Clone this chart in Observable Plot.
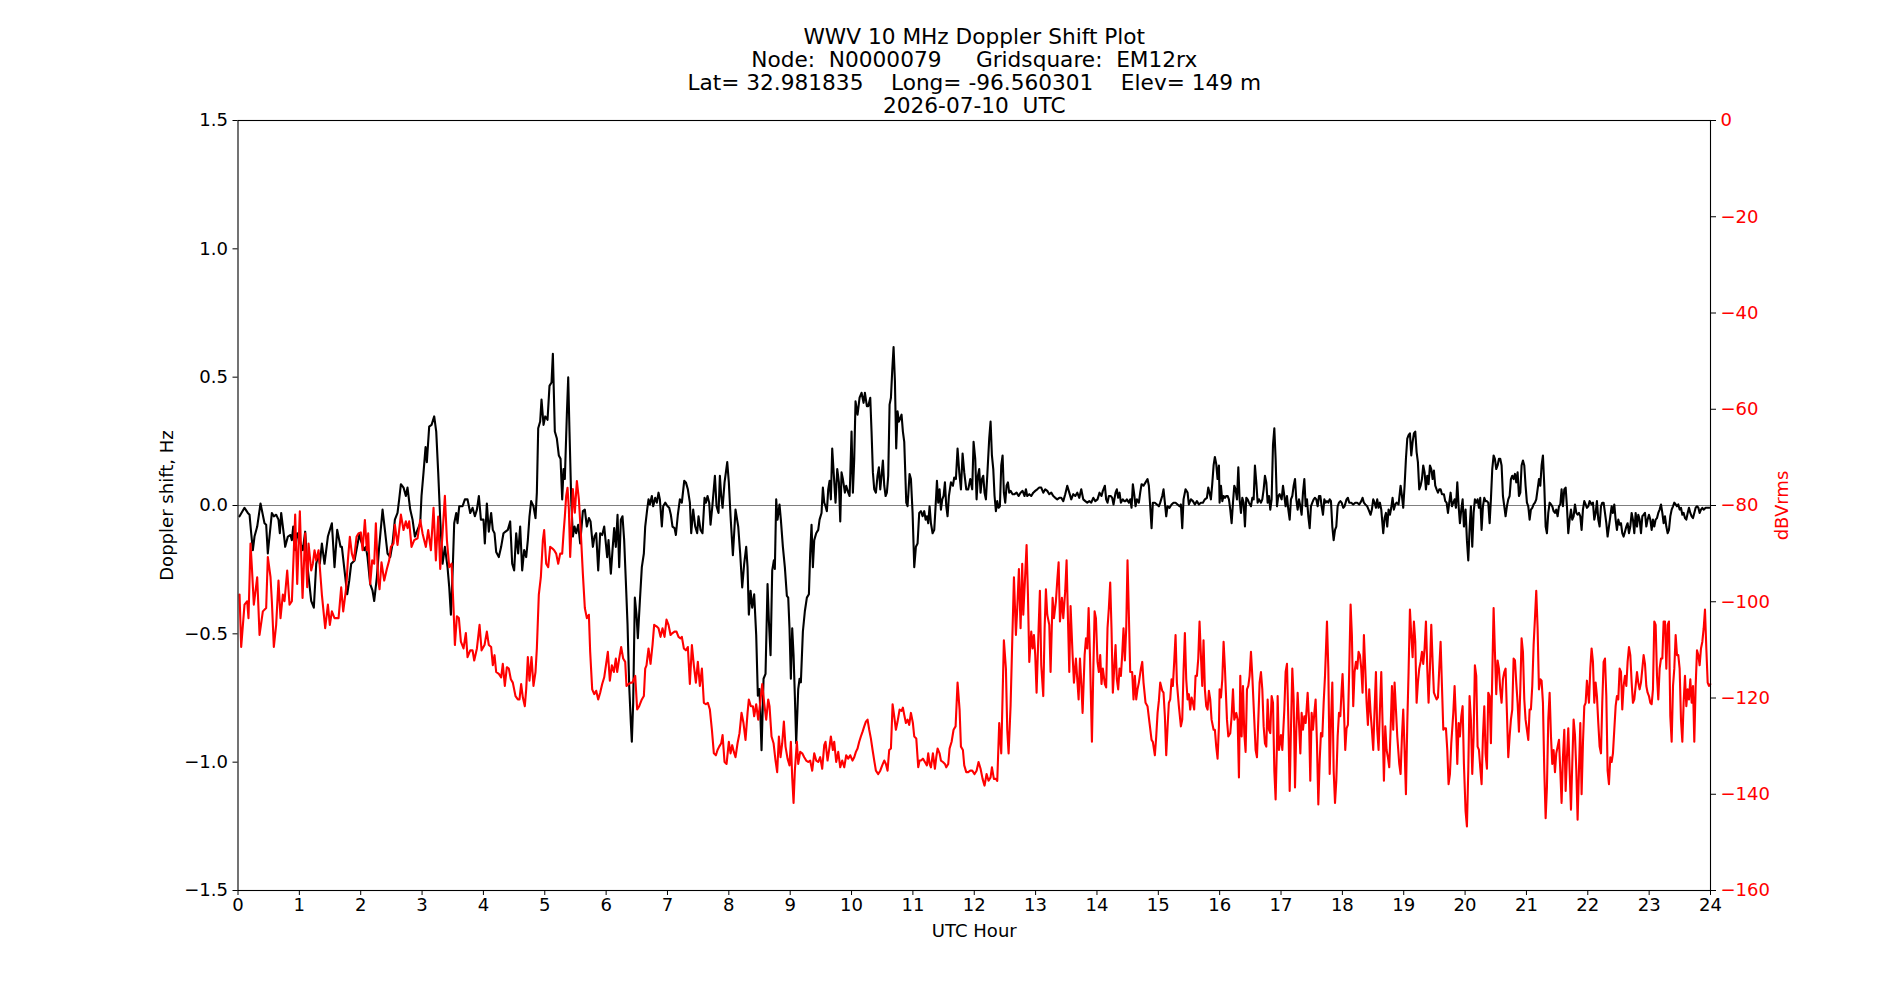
<!DOCTYPE html>
<html><head><meta charset="utf-8">
<script src="https://cdn.jsdelivr.net/npm/d3@7"></script>
<script src="https://cdn.jsdelivr.net/npm/@observablehq/plot@0.6"></script>
<style>
html,body{margin:0;padding:0;background:#fff;}
#chart svg text{white-space:pre;}
</style></head><body><div id="chart"></div>
<script>
const titleLines = [
  "WWV 10 MHz Doppler Shift Plot",
  "Node:  N0000079     Gridsquare:  EM12rx",
  "Lat= 32.981835    Long= -96.560301    Elev= 149 m",
  "2026-07-10  UTC"
];
const xLabel = "UTC Hour";
const yLabelLeft = "Doppler shift, Hz";
const yLabelRight = "dBVrms";
const hourTicks = [0,1,2,3,4,5,6,7,8,9,10,11,12,13,14,15,16,17,18,19,20,21,22,23,24];
const dopplerTicks = [-1.5,-1,-0.5,0,0.5,1,1.5];
const dbTicks = [0,-20,-40,-60,-80,-100,-120,-140,-160];

// [UTC hour, Doppler shift Hz]
const dopplerHz = [
[0.025,-0.042],[0.106,-0.009],[0.160,-0.029],[0.188,-0.036],[0.215,-0.108],[0.242,-0.174],[0.269,-0.121],[0.313,-0.082],[0.367,0.008],[0.432,-0.069],[0.459,-0.075],[0.486,-0.187],[0.552,-0.029],[0.584,-0.042],[0.622,-0.036],[0.660,-0.055],[0.682,-0.108],[0.704,-0.029],[0.758,-0.135],[0.769,-0.161],[0.813,-0.121],[0.856,-0.115],[0.878,-0.135],[0.900,-0.082],[0.932,-0.174],[0.965,-0.108],[1.057,-0.174],[1.095,-0.102],[1.128,-0.227],[1.193,-0.372],[1.236,-0.398],[1.275,-0.227],[1.313,-0.187],[1.334,-0.227],[1.367,-0.148],[1.410,-0.227],[1.465,-0.121],[1.530,-0.069],[1.573,-0.240],[1.617,-0.095],[1.671,-0.161],[1.693,-0.161],[1.736,-0.253],[1.780,-0.346],[1.813,-0.293],[1.845,-0.227],[1.900,-0.214],[1.981,-0.108],
[2.002,-0.135],[2.057,-0.174],[2.084,-0.161],[2.111,-0.201],[2.155,-0.306],[2.193,-0.332],[2.220,-0.372],[2.263,-0.280],[2.301,-0.161],[2.356,-0.016],[2.394,-0.095],[2.437,-0.187],[2.481,-0.201],[2.519,-0.148],[2.557,-0.055],[2.600,-0.029],[2.627,0.024],[2.655,0.083],[2.698,0.070],[2.736,0.037],[2.763,0.070],[2.807,-0.016],[2.845,-0.055],[2.883,-0.121],[2.926,-0.095],[2.970,-0.069],[2.991,0.037],[3.024,0.129],[3.057,0.228],[3.078,0.169],[3.116,0.307],[3.155,0.314],[3.198,0.347],[3.231,0.288],[3.263,0.129],[3.296,-0.055],[3.334,-0.227],[3.372,-0.161],[3.415,-0.240],[3.443,-0.319],[3.470,-0.425],[3.497,-0.266],[3.524,-0.069],[3.557,-0.029],[3.578,-0.069],[3.606,-0.003],[3.660,-0.003],[3.698,0.024],[3.741,0.024],[3.785,-0.029],[3.823,-0.009],[3.861,-0.042],[3.894,-0.016],[3.926,0.037],[3.959,-0.055],[3.986,-0.055],
[4.001,-0.055],[4.023,-0.148],[4.056,0.008],[4.088,-0.102],[4.126,-0.029],[4.153,-0.095],[4.181,-0.108],[4.208,-0.181],[4.251,-0.201],[4.289,-0.161],[4.327,-0.108],[4.360,-0.102],[4.398,-0.095],[4.436,-0.062],[4.469,-0.227],[4.501,-0.253],[4.534,-0.108],[4.566,-0.187],[4.599,-0.082],[4.632,-0.253],[4.664,-0.174],[4.697,-0.201],[4.724,-0.135],[4.751,-0.042],[4.778,0.017],[4.816,-0.003],[4.849,-0.049],[4.871,0.050],[4.893,0.301],[4.925,0.327],[4.947,0.413],[4.980,0.314],[5.007,0.347],[5.045,0.334],[5.077,0.466],[5.110,0.479],[5.132,0.591],[5.164,0.288],[5.197,0.261],[5.229,0.195],[5.257,0.182],[5.284,0.024],[5.306,0.142],[5.327,0.103],[5.360,0.354],[5.382,0.499],[5.403,0.288],[5.431,0.024],[5.458,-0.121],[5.485,-0.082],[5.512,-0.108],[5.545,-0.075],[5.577,-0.148],[5.621,-0.022],[5.653,-0.016],[5.686,-0.082],[5.719,-0.049],[5.746,-0.062],[5.784,-0.161],[5.811,-0.121],[5.838,-0.108],[5.871,-0.253],[5.903,-0.108],[5.936,-0.115],[5.969,-0.082],
[6.017,-0.201],[6.039,-0.135],[6.077,-0.266],[6.104,-0.174],[6.131,-0.088],[6.158,-0.161],[6.186,-0.036],[6.213,-0.240],[6.240,-0.055],[6.267,-0.042],[6.294,-0.135],[6.321,-0.293],[6.349,-0.464],[6.376,-0.702],[6.403,-0.847],[6.419,-0.920],[6.441,-0.768],[6.468,-0.359],[6.495,-0.425],[6.517,-0.517],[6.550,-0.372],[6.582,-0.240],[6.615,-0.187],[6.637,-0.082],[6.669,-0.016],[6.691,0.024],[6.713,0.004],[6.745,0.037],[6.767,-0.003],[6.800,0.030],[6.827,0.011],[6.854,0.050],[6.876,0.024],[6.908,-0.082],[6.930,-0.003],[6.963,0.011],[7.001,-0.003],[7.028,-0.009],[7.055,-0.036],[7.082,-0.082],[7.115,-0.088],[7.137,-0.115],[7.169,-0.036],[7.202,0.024],[7.234,0.011],[7.273,0.096],[7.300,0.090],[7.332,0.063],[7.365,0.011],[7.387,-0.108],[7.419,-0.016],[7.452,-0.082],[7.484,-0.108],[7.506,-0.042],[7.539,-0.095],[7.571,-0.108],[7.604,0.030],[7.626,0.011],[7.653,0.037],[7.680,0.011],[7.702,-0.075],[7.734,0.004],[7.773,0.116],[7.800,-0.003],[7.832,-0.029],[7.854,0.116],[7.876,0.037],[7.898,-0.009],[7.930,0.090],[7.952,0.129],[7.974,0.169],
[8.000,0.090],[8.028,-0.042],[8.066,-0.194],[8.109,-0.016],[8.153,-0.082],[8.185,-0.187],[8.218,-0.319],[8.250,-0.227],[8.283,-0.161],[8.305,-0.240],[8.326,-0.425],[8.354,-0.332],[8.381,-0.398],[8.413,-0.346],[8.446,-0.504],[8.473,-0.741],[8.500,-0.715],[8.533,-0.953],[8.566,-0.675],[8.598,-0.656],[8.631,-0.306],[8.653,-0.451],[8.680,-0.583],[8.707,-0.253],[8.734,-0.214],[8.750,-0.247],[8.772,0.024],[8.794,-0.055],[8.826,0.004],[8.848,-0.055],[8.881,-0.161],[8.913,-0.240],[8.946,-0.352],[8.968,-0.359],[8.989,-0.478],[9.011,-0.675],[9.033,-0.478],[9.055,-0.583],[9.076,-0.741],[9.098,-0.926],[9.131,-0.715],[9.153,-0.675],[9.174,-0.689],[9.207,-0.491],[9.239,-0.412],[9.272,-0.359],[9.305,-0.346],[9.326,-0.187],[9.348,-0.075],[9.370,-0.240],[9.392,-0.135],[9.424,-0.108],[9.457,-0.095],[9.479,-0.055],[9.511,-0.029],[9.533,0.070],[9.555,0.011],[9.576,-0.003],[9.598,-0.022],[9.620,0.063],[9.642,0.096],[9.663,0.024],[9.685,0.222],[9.712,0.116],[9.739,0.011],[9.767,0.142],[9.794,0.090],[9.816,-0.062],[9.837,0.129],[9.859,0.103],[9.892,0.050],[9.913,0.077],[9.946,0.050],[9.968,0.037],
[9.978,0.103],[10.000,0.288],[10.022,0.050],[10.044,0.182],[10.065,0.406],[10.098,0.354],[10.131,0.420],[10.163,0.439],[10.196,0.400],[10.218,0.439],[10.250,0.387],[10.272,0.387],[10.305,0.420],[10.326,0.288],[10.348,0.129],[10.370,0.063],[10.397,0.050],[10.424,0.116],[10.446,0.149],[10.468,0.063],[10.489,0.116],[10.511,0.175],[10.533,0.077],[10.555,0.037],[10.576,0.050],[10.598,0.116],[10.620,0.393],[10.642,0.420],[10.663,0.525],[10.685,0.617],[10.707,0.485],[10.728,0.222],[10.750,0.367],[10.772,0.327],[10.794,0.340],[10.815,0.354],[10.837,0.288],[10.859,0.248],[10.892,0.011],[10.913,-0.003],[10.946,0.123],[10.968,0.103],[10.995,-0.029],[11.022,-0.240],[11.049,-0.161],[11.076,-0.148],[11.103,-0.029],[11.131,-0.022],[11.158,-0.042],[11.185,-0.022],[11.207,-0.055],[11.228,-0.042],[11.250,-0.069],[11.272,-0.003],[11.294,-0.069],[11.321,-0.108],[11.348,-0.095],[11.370,-0.003],[11.392,0.096],[11.413,0.011],[11.435,0.063],[11.457,-0.016],[11.479,0.024],[11.500,0.037],[11.522,0.090],[11.544,-0.003],[11.565,-0.042],[11.587,0.037],[11.620,0.090],[11.652,0.077],[11.674,0.109],[11.701,0.103],[11.728,0.222],[11.756,0.129],[11.783,0.063],[11.810,0.202],[11.837,0.129],[11.870,0.063],[11.902,0.063],[11.935,0.103],[11.967,0.063],[11.989,0.248],
[12.016,0.182],[12.038,0.024],[12.060,0.116],[12.081,0.142],[12.103,0.050],[12.125,0.103],[12.147,0.116],[12.168,0.050],[12.190,0.024],[12.212,0.116],[12.244,0.261],[12.266,0.327],[12.288,0.195],[12.310,0.142],[12.331,0.037],[12.353,-0.022],[12.375,0.017],[12.397,-0.009],[12.418,-0.003],[12.440,0.156],[12.462,0.195],[12.483,0.050],[12.505,0.011],[12.527,0.077],[12.549,0.090],[12.570,0.050],[12.592,0.057],[12.625,0.044],[12.657,0.044],[12.690,0.050],[12.723,0.037],[12.755,0.050],[12.788,0.057],[12.820,0.037],[12.842,0.063],[12.864,0.037],[12.897,0.044],[12.929,0.037],[12.962,0.050],[12.994,0.057],[13.027,0.063],[13.060,0.070],[13.092,0.070],[13.125,0.050],[13.157,0.063],[13.190,0.057],[13.223,0.044],[13.255,0.050],[13.288,0.037],[13.320,0.030],[13.353,0.024],[13.386,0.030],[13.418,0.030],[13.451,0.017],[13.483,0.044],[13.516,0.077],[13.549,0.050],[13.581,0.024],[13.614,0.044],[13.647,0.037],[13.679,0.050],[13.712,0.030],[13.744,0.063],[13.777,0.024],[13.810,0.017],[13.842,0.011],[13.875,0.017],[13.907,0.011],[13.940,0.030],[13.973,0.017],
[14.009,0.024],[14.042,0.050],[14.074,0.037],[14.096,0.057],[14.129,0.077],[14.150,0.024],[14.172,0.011],[14.194,0.037],[14.227,0.037],[14.248,0.030],[14.270,0.004],[14.303,0.050],[14.324,0.063],[14.346,0.030],[14.368,0.050],[14.390,0.011],[14.422,0.024],[14.444,0.017],[14.466,0.017],[14.487,0.024],[14.520,0.011],[14.542,0.024],[14.564,-0.009],[14.585,0.083],[14.607,0.044],[14.629,-0.003],[14.651,0.024],[14.683,0.011],[14.705,0.050],[14.727,0.083],[14.759,0.077],[14.792,0.090],[14.824,0.103],[14.846,0.077],[14.868,-0.003],[14.890,-0.088],[14.911,0.011],[14.944,0.011],[14.977,0.004],[15.009,-0.003],[15.031,0.011],[15.064,0.037],[15.085,0.063],[15.107,0.011],[15.129,-0.042],[15.150,-0.003],[15.183,-0.009],[15.216,0.004],[15.248,0.011],[15.281,0.011],[15.314,0.004],[15.346,-0.003],[15.368,0.004],[15.390,-0.088],[15.411,0.024],[15.444,0.063],[15.477,0.050],[15.498,0.004],[15.531,0.024],[15.564,0.017],[15.596,0.004],[15.629,0.017],[15.661,0.004],[15.694,0.011],[15.727,0.011],[15.759,0.024],[15.792,0.030],[15.814,0.070],[15.835,0.050],[15.857,0.024],[15.879,0.083],[15.901,0.156],[15.922,0.189],[15.944,0.162],[15.966,0.103],[15.988,0.156],
[15.999,0.011],[16.021,0.077],[16.043,0.017],[16.064,0.037],[16.086,0.030],[16.108,0.037],[16.130,0.037],[16.151,0.024],[16.173,-0.016],[16.195,-0.069],[16.217,0.011],[16.238,0.077],[16.260,0.063],[16.282,0.024],[16.304,0.149],[16.325,0.024],[16.347,-0.029],[16.369,0.030],[16.391,0.011],[16.412,-0.082],[16.434,0.030],[16.456,0.024],[16.477,0.011],[16.510,-0.003],[16.532,0.030],[16.554,0.024],[16.575,0.156],[16.597,0.090],[16.619,0.011],[16.641,0.024],[16.673,0.011],[16.695,0.024],[16.717,0.063],[16.738,0.116],[16.760,0.090],[16.782,0.011],[16.804,0.037],[16.825,-0.016],[16.847,0.024],[16.869,0.235],[16.891,0.301],[16.912,0.182],[16.934,-0.003],[16.956,0.037],[16.977,0.044],[17.010,0.024],[17.032,0.077],[17.054,0.037],[17.075,-0.003],[17.097,0.037],[17.119,-0.016],[17.141,-0.055],[17.162,0.024],[17.184,0.037],[17.206,0.077],[17.228,0.103],[17.249,0.024],[17.271,-0.016],[17.293,0.024],[17.315,-0.003],[17.336,-0.036],[17.358,0.050],[17.380,0.103],[17.402,-0.003],[17.423,0.024],[17.445,-0.042],[17.467,-0.088],[17.488,-0.003],[17.510,0.011],[17.532,0.024],[17.554,0.030],[17.575,0.024],[17.597,-0.003],[17.619,0.037],[17.641,0.037],[17.662,-0.003],[17.684,-0.036],[17.706,0.024],[17.728,0.011],[17.749,0.017],[17.771,0.011],[17.793,0.024],[17.814,0.017],[17.836,-0.082],[17.858,-0.135],[17.880,-0.095],[17.901,-0.082],[17.923,-0.003],[17.945,0.011],[17.967,0.017],[17.988,0.011],
[18.014,-0.009],[18.036,-0.003],[18.068,0.024],[18.090,0.030],[18.112,0.011],[18.145,0.011],[18.177,0.004],[18.210,0.011],[18.242,0.011],[18.275,0.004],[18.308,0.017],[18.329,0.030],[18.351,0.011],[18.373,0.004],[18.405,-0.003],[18.427,-0.016],[18.460,-0.036],[18.481,-0.016],[18.503,0.024],[18.525,0.011],[18.547,-0.009],[18.568,0.024],[18.590,-0.009],[18.612,0.011],[18.634,-0.016],[18.666,-0.108],[18.688,-0.049],[18.710,-0.029],[18.731,-0.082],[18.753,-0.016],[18.775,-0.036],[18.797,-0.009],[18.818,0.030],[18.840,-0.016],[18.862,0.004],[18.884,0.011],[18.916,0.004],[18.949,0.077],[18.971,0.037],[18.992,-0.009],[19.014,0.077],[19.036,0.182],[19.058,0.261],[19.079,0.274],[19.101,0.281],[19.123,0.195],[19.145,0.248],[19.166,0.281],[19.188,0.288],[19.210,0.208],[19.231,0.169],[19.253,0.063],[19.275,0.077],[19.297,0.103],[19.318,0.156],[19.340,0.129],[19.362,0.063],[19.384,0.116],[19.405,0.083],[19.427,0.156],[19.449,0.142],[19.471,0.103],[19.492,0.136],[19.514,0.077],[19.536,0.063],[19.558,0.050],[19.579,0.063],[19.601,0.063],[19.623,0.044],[19.655,0.044],[19.677,0.017],[19.699,0.011],[19.721,-0.029],[19.742,0.011],[19.764,0.050],[19.786,-0.003],[19.808,0.011],[19.829,0.024],[19.851,-0.009],[19.873,0.090],[19.895,-0.003],[19.916,-0.069],[19.938,-0.016],[19.960,0.024],[19.981,-0.082],
[20.008,-0.016],[20.030,-0.135],[20.052,-0.214],[20.073,-0.095],[20.095,-0.003],[20.117,-0.161],[20.139,-0.029],[20.160,0.024],[20.182,0.011],[20.204,0.024],[20.226,-0.009],[20.247,0.030],[20.269,-0.095],[20.291,-0.003],[20.313,0.030],[20.334,0.017],[20.356,0.017],[20.378,0.011],[20.400,-0.069],[20.421,0.024],[20.443,0.142],[20.465,0.195],[20.486,0.182],[20.508,0.142],[20.530,0.156],[20.552,0.182],[20.573,0.182],[20.595,0.156],[20.617,0.037],[20.639,-0.003],[20.660,-0.042],[20.682,-0.003],[20.704,0.024],[20.726,0.037],[20.747,0.103],[20.769,0.116],[20.791,0.103],[20.813,0.123],[20.834,0.090],[20.856,0.129],[20.878,0.037],[20.900,0.050],[20.921,0.156],[20.943,0.175],[20.965,0.156],[20.986,0.077],[21.008,0.011],[21.030,-0.003],[21.052,-0.055],[21.073,-0.016],[21.095,-0.009],[21.117,0.004],[21.139,0.011],[21.160,0.024],[21.182,0.063],[21.204,0.103],[21.226,0.077],[21.247,0.156],[21.269,0.195],[21.291,0.077],[21.313,-0.082],[21.334,-0.108],[21.356,-0.029],[21.378,0.011],[21.400,0.004],[21.421,-0.003],[21.443,-0.022],[21.465,-0.029],[21.486,-0.016],[21.508,-0.042],[21.530,-0.003],[21.552,0.004],[21.573,0.063],[21.595,-0.003],[21.617,0.063],[21.639,0.070],[21.660,-0.003],[21.682,-0.108],[21.704,-0.055],[21.726,-0.016],[21.747,-0.055],[21.769,-0.042],[21.791,0.004],[21.813,-0.029],[21.834,-0.036],[21.856,-0.029],[21.878,-0.042],[21.899,-0.095],[21.921,-0.016],[21.943,0.017],[21.965,0.004],[21.986,-0.009],
[22.008,-0.003],[22.030,0.017],[22.062,0.004],[22.084,0.011],[22.106,-0.055],[22.128,-0.029],[22.149,0.017],[22.171,-0.055],[22.193,-0.082],[22.215,-0.003],[22.236,0.011],[22.258,0.011],[22.280,-0.029],[22.302,-0.069],[22.323,-0.121],[22.345,-0.082],[22.367,-0.042],[22.389,-0.003],[22.410,-0.029],[22.432,0.004],[22.454,-0.055],[22.475,-0.095],[22.497,-0.055],[22.519,-0.075],[22.541,-0.069],[22.562,-0.108],[22.584,-0.121],[22.606,-0.102],[22.628,-0.082],[22.649,-0.069],[22.671,-0.108],[22.693,-0.082],[22.715,-0.029],[22.736,-0.055],[22.758,-0.108],[22.780,-0.029],[22.802,-0.082],[22.823,-0.036],[22.845,-0.055],[22.867,-0.108],[22.889,-0.042],[22.910,-0.036],[22.932,-0.029],[22.954,-0.082],[22.975,-0.055],[22.997,-0.036],[23.019,-0.055],[23.041,-0.095],[23.062,-0.055],[23.084,-0.082],[23.106,-0.055],[23.128,-0.049],[23.149,-0.029],[23.171,-0.016],[23.193,0.004],[23.215,-0.029],[23.236,-0.069],[23.258,-0.042],[23.280,-0.082],[23.302,-0.108],[23.323,-0.095],[23.345,-0.042],[23.367,-0.016],[23.389,-0.003],[23.410,0.011],[23.432,0.004],[23.454,-0.003],[23.475,0.004],[23.497,-0.016],[23.519,-0.009],[23.541,-0.036],[23.562,-0.029],[23.584,-0.049],[23.606,-0.055],[23.628,-0.029],[23.649,-0.009],[23.671,-0.029],[23.693,-0.042],[23.715,-0.049],[23.736,-0.029],[23.758,-0.009],[23.780,-0.003],[23.802,-0.009],[23.823,-0.029],[23.845,-0.016],[23.867,-0.009],[23.889,-0.016],[23.921,-0.009],[23.954,-0.009],[23.986,-0.009]
];

// [UTC hour, signal level dBVrms]
const signalDb = [
[0.025,-98.5],[0.052,-109.4],[0.106,-100.6],[0.150,-99.9],[0.171,-103.4],[0.204,-87.9],[0.226,-92.8],[0.258,-100.6],[0.313,-94.9],[0.351,-106.9],[0.405,-102.0],[0.459,-101.3],[0.486,-90.7],[0.530,-94.9],[0.552,-99.9],[0.584,-109.4],[0.622,-104.8],[0.660,-95.6],[0.693,-103.4],[0.731,-98.5],[0.758,-99.9],[0.802,-93.5],[0.840,-100.6],[0.878,-99.9],[0.932,-81.9],[0.965,-96.3],[1.008,-81.2],[1.052,-99.2],[1.095,-85.8],[1.128,-97.0],[1.150,-87.9],[1.193,-93.5],[1.220,-92.1],[1.247,-89.3],[1.275,-91.4],[1.313,-89.3],[1.367,-98.5],[1.421,-105.5],[1.465,-100.6],[1.497,-104.8],[1.530,-102.0],[1.573,-103.4],[1.639,-103.4],[1.682,-97.0],[1.715,-102.0],[1.764,-97.0],[1.791,-91.4],[1.823,-86.5],[1.856,-90.0],[1.889,-91.4],[1.932,-86.5],[1.965,-85.8],
[2.002,-85.6],[2.030,-89.3],[2.068,-83.0],[2.100,-89.3],[2.122,-85.8],[2.155,-96.3],[2.187,-91.4],[2.220,-92.1],[2.247,-83.7],[2.285,-95.6],[2.307,-97.4],[2.339,-91.8],[2.383,-95.6],[2.426,-93.2],[2.464,-91.4],[2.491,-88.6],[2.535,-87.9],[2.557,-84.0],[2.600,-88.2],[2.655,-81.9],[2.698,-85.1],[2.736,-83.3],[2.763,-84.7],[2.790,-83.3],[2.828,-88.6],[2.872,-87.2],[2.926,-86.8],[2.970,-83.0],[3.008,-85.8],[3.062,-88.6],[3.100,-85.1],[3.144,-89.3],[3.187,-80.5],[3.225,-91.4],[3.263,-82.3],[3.296,-93.2],[3.334,-85.8],[3.372,-78.0],[3.405,-87.2],[3.443,-92.8],[3.481,-92.1],[3.513,-101.3],[3.535,-109.0],[3.568,-103.0],[3.600,-103.4],[3.633,-108.3],[3.676,-109.7],[3.714,-106.5],[3.741,-111.5],[3.785,-110.1],[3.823,-110.1],[3.850,-112.2],[3.894,-109.7],[3.937,-104.8],[3.970,-110.1],
[4.018,-109.0],[4.056,-106.2],[4.088,-109.0],[4.126,-109.4],[4.153,-113.2],[4.181,-111.1],[4.208,-114.6],[4.251,-115.0],[4.289,-115.7],[4.316,-112.9],[4.349,-117.5],[4.382,-113.6],[4.414,-113.9],[4.447,-116.1],[4.479,-116.8],[4.523,-119.6],[4.561,-120.3],[4.588,-120.3],[4.615,-117.1],[4.643,-119.9],[4.675,-121.7],[4.697,-118.2],[4.724,-111.5],[4.751,-116.4],[4.784,-111.5],[4.816,-117.5],[4.849,-114.6],[4.871,-109.7],[4.903,-98.5],[4.936,-94.9],[4.969,-87.2],[4.990,-85.1],[5.023,-92.1],[5.056,-92.8],[5.088,-88.6],[5.121,-88.9],[5.153,-89.3],[5.186,-90.0],[5.219,-92.1],[5.251,-90.0],[5.284,-90.0],[5.306,-85.8],[5.327,-82.3],[5.349,-78.0],[5.371,-76.3],[5.393,-80.8],[5.414,-90.7],[5.436,-84.4],[5.458,-76.6],[5.490,-81.5],[5.523,-74.9],[5.556,-78.7],[5.588,-85.8],[5.621,-94.2],[5.653,-101.3],[5.686,-103.4],[5.719,-102.7],[5.740,-110.4],[5.773,-118.2],[5.806,-119.2],[5.838,-118.5],[5.871,-120.3],[5.903,-118.9],[5.936,-117.1],[5.969,-115.7],
[6.028,-110.4],[6.061,-116.4],[6.093,-113.2],[6.126,-114.6],[6.158,-111.8],[6.180,-114.6],[6.213,-111.8],[6.245,-109.4],[6.278,-111.8],[6.311,-112.5],[6.332,-117.5],[6.365,-117.1],[6.403,-116.8],[6.430,-116.8],[6.474,-115.4],[6.506,-122.4],[6.539,-121.7],[6.582,-120.3],[6.615,-119.6],[6.637,-113.9],[6.658,-113.2],[6.691,-109.7],[6.724,-112.9],[6.756,-109.0],[6.783,-104.8],[6.821,-105.1],[6.854,-105.5],[6.887,-107.3],[6.919,-105.5],[6.952,-107.3],[6.984,-103.7],[7.017,-104.8],[7.050,-106.9],[7.082,-106.5],[7.115,-106.2],[7.147,-106.2],[7.180,-107.3],[7.213,-107.6],[7.234,-107.3],[7.267,-109.7],[7.300,-110.1],[7.332,-109.4],[7.365,-117.1],[7.398,-109.0],[7.430,-113.2],[7.463,-116.8],[7.495,-112.5],[7.528,-117.5],[7.561,-113.9],[7.593,-121.0],[7.626,-121.3],[7.658,-121.0],[7.691,-122.4],[7.724,-126.6],[7.756,-131.5],[7.789,-131.9],[7.816,-130.8],[7.843,-130.1],[7.876,-129.4],[7.898,-127.7],[7.930,-133.3],[7.963,-133.7],
[8.000,-129.1],[8.028,-131.5],[8.055,-129.8],[8.082,-131.2],[8.109,-132.3],[8.142,-129.4],[8.174,-127.3],[8.207,-123.1],[8.239,-125.2],[8.272,-128.7],[8.305,-123.1],[8.326,-120.3],[8.359,-121.7],[8.392,-121.7],[8.413,-123.8],[8.446,-121.3],[8.479,-124.5],[8.511,-121.0],[8.544,-117.1],[8.576,-121.0],[8.609,-124.5],[8.642,-120.3],[8.663,-121.7],[8.696,-128.0],[8.729,-129.4],[8.761,-133.0],[8.788,-135.4],[8.816,-128.0],[8.843,-132.3],[8.870,-129.4],[8.897,-124.9],[8.924,-130.1],[8.957,-132.6],[8.989,-134.0],[9.011,-129.1],[9.033,-136.5],[9.055,-141.8],[9.076,-135.1],[9.109,-129.1],[9.131,-133.7],[9.163,-131.2],[9.196,-131.5],[9.229,-132.3],[9.261,-133.0],[9.294,-133.3],[9.326,-133.0],[9.359,-135.1],[9.392,-131.5],[9.424,-133.0],[9.457,-133.3],[9.489,-132.3],[9.522,-134.7],[9.555,-129.8],[9.576,-129.1],[9.609,-133.0],[9.642,-130.1],[9.663,-128.0],[9.696,-130.8],[9.718,-129.1],[9.750,-133.3],[9.783,-131.2],[9.816,-134.4],[9.848,-133.0],[9.881,-134.4],[9.913,-131.9],[9.946,-132.6],[9.978,-131.9],
[10.016,-133.0],[10.044,-132.3],[10.071,-131.2],[10.098,-130.5],[10.125,-129.1],[10.152,-128.0],[10.180,-127.0],[10.207,-125.9],[10.234,-124.9],[10.261,-124.5],[10.288,-126.6],[10.315,-128.4],[10.343,-130.8],[10.370,-133.0],[10.397,-135.1],[10.435,-135.8],[10.468,-135.1],[10.500,-134.0],[10.533,-133.0],[10.560,-133.7],[10.587,-135.1],[10.614,-130.8],[10.642,-130.5],[10.669,-121.3],[10.696,-123.8],[10.723,-126.6],[10.750,-124.9],[10.783,-122.4],[10.815,-122.7],[10.837,-122.0],[10.859,-123.5],[10.886,-125.2],[10.913,-124.5],[10.940,-125.6],[10.968,-123.1],[11.000,-125.2],[11.022,-128.0],[11.055,-128.4],[11.087,-134.4],[11.109,-133.0],[11.131,-133.0],[11.163,-132.6],[11.196,-133.3],[11.228,-134.0],[11.250,-131.5],[11.272,-133.7],[11.294,-134.4],[11.326,-131.5],[11.359,-134.7],[11.381,-132.3],[11.402,-130.5],[11.435,-131.5],[11.457,-133.0],[11.489,-133.3],[11.522,-133.7],[11.544,-134.4],[11.576,-133.7],[11.598,-130.5],[11.631,-129.1],[11.663,-126.6],[11.696,-125.9],[11.728,-116.8],[11.761,-122.4],[11.783,-130.1],[11.815,-130.8],[11.837,-134.0],[11.870,-135.4],[11.902,-135.4],[11.935,-135.1],[11.967,-135.1],
[12.005,-135.8],[12.038,-135.1],[12.070,-133.3],[12.103,-134.7],[12.136,-136.8],[12.168,-138.2],[12.201,-135.8],[12.233,-137.2],[12.266,-136.5],[12.288,-134.4],[12.320,-136.8],[12.353,-136.8],[12.375,-137.2],[12.407,-125.2],[12.440,-131.5],[12.462,-119.6],[12.483,-108.0],[12.516,-113.9],[12.538,-126.6],[12.560,-131.5],[12.592,-121.7],[12.619,-108.3],[12.647,-94.9],[12.679,-106.9],[12.701,-101.3],[12.728,-93.2],[12.755,-105.5],[12.782,-92.1],[12.799,-102.7],[12.831,-94.2],[12.853,-88.2],[12.875,-98.5],[12.897,-112.5],[12.929,-106.2],[12.951,-109.7],[12.973,-106.9],[12.994,-111.1],[13.016,-118.9],[13.049,-105.5],[13.070,-97.7],[13.092,-113.2],[13.125,-119.6],[13.147,-105.5],[13.168,-97.4],[13.190,-102.7],[13.223,-104.8],[13.244,-114.6],[13.277,-99.2],[13.299,-103.4],[13.331,-99.9],[13.353,-95.6],[13.375,-91.8],[13.397,-104.1],[13.429,-99.2],[13.451,-103.4],[13.483,-97.7],[13.505,-91.4],[13.527,-103.4],[13.549,-114.6],[13.570,-100.9],[13.603,-111.1],[13.625,-116.8],[13.657,-111.8],[13.679,-116.1],[13.701,-120.3],[13.723,-111.8],[13.744,-116.8],[13.766,-123.1],[13.799,-111.1],[13.821,-107.6],[13.842,-109.7],[13.864,-101.3],[13.886,-111.1],[13.918,-129.1],[13.940,-114.6],[13.962,-102.0],[13.983,-103.4],
[14.009,-112.5],[14.031,-114.6],[14.053,-111.1],[14.074,-117.1],[14.096,-113.9],[14.129,-117.1],[14.150,-117.8],[14.172,-105.5],[14.194,-101.3],[14.216,-96.0],[14.237,-105.5],[14.259,-118.9],[14.281,-113.9],[14.303,-109.0],[14.324,-116.1],[14.346,-118.2],[14.368,-113.9],[14.390,-115.4],[14.411,-111.1],[14.433,-105.5],[14.455,-112.2],[14.477,-105.5],[14.498,-91.4],[14.520,-102.7],[14.542,-114.6],[14.574,-114.6],[14.596,-120.3],[14.618,-115.4],[14.640,-120.3],[14.661,-118.2],[14.683,-116.8],[14.716,-113.9],[14.738,-112.5],[14.759,-116.8],[14.792,-121.0],[14.824,-121.7],[14.857,-125.2],[14.890,-128.7],[14.911,-129.1],[14.944,-131.9],[14.966,-128.0],[14.988,-123.1],[15.009,-120.6],[15.031,-116.8],[15.064,-118.5],[15.085,-118.9],[15.107,-123.8],[15.129,-131.9],[15.150,-126.3],[15.172,-121.0],[15.194,-120.3],[15.216,-116.1],[15.237,-117.5],[15.259,-112.5],[15.281,-106.9],[15.303,-116.8],[15.335,-121.7],[15.368,-125.9],[15.390,-124.5],[15.411,-114.6],[15.433,-106.5],[15.455,-116.1],[15.477,-120.3],[15.498,-119.2],[15.520,-122.4],[15.542,-119.9],[15.564,-121.0],[15.585,-122.4],[15.607,-115.4],[15.629,-115.4],[15.651,-111.8],[15.672,-104.1],[15.694,-111.1],[15.716,-117.5],[15.737,-108.0],[15.759,-118.2],[15.781,-121.7],[15.803,-122.4],[15.825,-118.5],[15.846,-120.3],[15.868,-124.5],[15.901,-126.6],[15.922,-126.6],[15.944,-130.1],[15.966,-132.6],[15.988,-125.9],
[15.999,-118.2],[16.021,-119.9],[16.043,-116.1],[16.064,-108.3],[16.086,-113.9],[16.119,-124.5],[16.141,-128.0],[16.173,-127.3],[16.195,-123.8],[16.217,-118.2],[16.238,-124.5],[16.271,-123.1],[16.293,-124.5],[16.314,-136.5],[16.336,-115.4],[16.358,-128.0],[16.380,-117.5],[16.401,-127.3],[16.423,-131.2],[16.445,-118.2],[16.467,-117.5],[16.488,-115.4],[16.510,-110.4],[16.532,-115.4],[16.564,-124.5],[16.586,-130.8],[16.608,-132.3],[16.630,-124.5],[16.651,-116.8],[16.673,-114.6],[16.695,-118.2],[16.717,-125.9],[16.738,-129.4],[16.760,-130.1],[16.782,-120.3],[16.804,-126.6],[16.825,-127.3],[16.847,-119.6],[16.869,-121.0],[16.891,-135.1],[16.912,-141.1],[16.934,-129.4],[16.945,-119.6],[16.967,-130.8],[16.999,-127.7],[17.021,-130.8],[17.054,-122.4],[17.075,-114.6],[17.097,-112.9],[17.119,-124.5],[17.141,-139.3],[17.162,-126.6],[17.184,-113.9],[17.206,-120.3],[17.228,-138.6],[17.249,-126.6],[17.271,-118.9],[17.293,-125.2],[17.315,-131.5],[17.336,-123.1],[17.358,-126.6],[17.380,-123.8],[17.402,-125.2],[17.434,-118.9],[17.456,-124.5],[17.477,-137.2],[17.499,-123.1],[17.521,-126.6],[17.543,-123.1],[17.564,-120.3],[17.586,-129.4],[17.608,-142.1],[17.630,-133.0],[17.651,-127.3],[17.673,-128.0],[17.695,-121.0],[17.717,-115.4],[17.749,-104.1],[17.771,-113.9],[17.793,-135.8],[17.814,-125.2],[17.836,-116.8],[17.858,-135.1],[17.880,-141.8],[17.901,-137.2],[17.923,-128.0],[17.945,-123.1],[17.967,-123.8],[17.988,-118.2],
[18.003,-115.0],[18.025,-122.4],[18.047,-130.8],[18.068,-126.3],[18.090,-125.6],[18.112,-113.9],[18.134,-100.6],[18.155,-106.9],[18.177,-121.7],[18.199,-114.6],[18.221,-112.5],[18.242,-113.9],[18.264,-110.4],[18.286,-111.1],[18.308,-113.9],[18.329,-118.9],[18.351,-106.9],[18.373,-113.9],[18.395,-121.0],[18.416,-125.6],[18.438,-118.2],[18.460,-123.1],[18.481,-126.6],[18.503,-130.8],[18.525,-122.4],[18.547,-114.6],[18.568,-126.6],[18.590,-130.8],[18.612,-122.4],[18.634,-114.6],[18.655,-125.2],[18.677,-137.2],[18.699,-125.9],[18.721,-130.8],[18.742,-132.3],[18.764,-134.4],[18.786,-126.6],[18.808,-117.5],[18.829,-126.6],[18.851,-116.8],[18.873,-122.4],[18.895,-128.0],[18.927,-133.7],[18.949,-135.8],[18.971,-128.0],[18.992,-122.4],[19.014,-130.8],[19.036,-140.0],[19.058,-125.2],[19.079,-114.6],[19.101,-101.6],[19.123,-106.9],[19.145,-111.5],[19.166,-104.1],[19.188,-108.3],[19.210,-121.0],[19.231,-116.8],[19.253,-113.9],[19.275,-112.5],[19.297,-110.4],[19.318,-112.9],[19.340,-109.7],[19.362,-104.1],[19.384,-113.9],[19.405,-121.0],[19.427,-113.9],[19.449,-104.8],[19.471,-112.5],[19.492,-118.9],[19.514,-119.6],[19.536,-120.3],[19.558,-119.9],[19.579,-113.9],[19.601,-108.3],[19.623,-117.5],[19.645,-126.6],[19.666,-126.3],[19.688,-126.3],[19.710,-130.8],[19.731,-137.9],[19.753,-135.8],[19.775,-129.4],[19.808,-123.1],[19.829,-117.5],[19.851,-124.5],[19.873,-133.7],[19.895,-125.2],[19.916,-128.0],[19.938,-123.8],[19.960,-121.7],[19.981,-133.7],
[20.008,-143.5],[20.030,-146.7],[20.052,-135.1],[20.073,-119.6],[20.095,-124.5],[20.117,-135.8],[20.139,-128.0],[20.160,-113.2],[20.182,-115.4],[20.204,-130.1],[20.226,-130.8],[20.247,-134.4],[20.269,-137.9],[20.291,-128.0],[20.313,-121.7],[20.334,-131.5],[20.356,-134.7],[20.378,-118.9],[20.400,-119.6],[20.421,-129.4],[20.443,-115.4],[20.465,-101.3],[20.486,-110.4],[20.508,-119.2],[20.530,-112.2],[20.552,-113.9],[20.573,-118.2],[20.595,-121.0],[20.617,-116.1],[20.639,-114.6],[20.660,-113.9],[20.682,-123.1],[20.704,-132.3],[20.726,-128.0],[20.747,-124.5],[20.769,-122.4],[20.791,-111.8],[20.813,-112.2],[20.834,-116.8],[20.856,-121.0],[20.878,-127.0],[20.900,-118.2],[20.921,-107.6],[20.943,-110.4],[20.965,-120.3],[20.986,-124.5],[21.008,-126.6],[21.030,-128.7],[21.052,-122.4],[21.073,-122.4],[21.095,-117.5],[21.117,-109.0],[21.139,-103.4],[21.160,-97.7],[21.182,-105.5],[21.204,-118.2],[21.226,-116.1],[21.247,-116.4],[21.269,-121.0],[21.291,-135.1],[21.313,-145.0],[21.334,-138.6],[21.356,-124.5],[21.378,-118.9],[21.400,-128.0],[21.421,-133.7],[21.443,-130.8],[21.465,-135.4],[21.486,-131.5],[21.508,-130.1],[21.530,-128.7],[21.552,-135.1],[21.573,-141.8],[21.595,-132.3],[21.617,-126.6],[21.639,-139.3],[21.660,-132.3],[21.682,-126.3],[21.704,-135.1],[21.726,-143.2],[21.747,-133.7],[21.769,-124.5],[21.791,-127.7],[21.813,-135.1],[21.834,-145.3],[21.856,-135.1],[21.878,-125.2],[21.899,-140.0],[21.921,-129.4],[21.943,-121.7],[21.965,-121.0],[21.986,-116.4],
[22.019,-121.0],[22.041,-113.9],[22.062,-109.7],[22.084,-112.5],[22.106,-121.0],[22.128,-116.8],[22.149,-119.6],[22.171,-125.2],[22.193,-130.1],[22.215,-131.5],[22.236,-121.0],[22.258,-112.5],[22.280,-111.8],[22.302,-119.6],[22.323,-135.1],[22.345,-137.9],[22.367,-132.3],[22.389,-133.3],[22.410,-131.5],[22.432,-126.6],[22.454,-121.7],[22.475,-119.6],[22.497,-120.3],[22.519,-113.9],[22.541,-114.6],[22.562,-122.4],[22.584,-117.5],[22.606,-115.4],[22.628,-117.5],[22.649,-112.5],[22.671,-109.4],[22.693,-111.1],[22.715,-116.8],[22.736,-121.0],[22.758,-120.3],[22.780,-117.5],[22.802,-114.6],[22.823,-116.8],[22.845,-118.2],[22.867,-116.8],[22.889,-113.9],[22.910,-111.1],[22.932,-112.9],[22.954,-117.5],[22.975,-118.9],[22.997,-119.6],[23.019,-121.0],[23.041,-121.3],[23.062,-118.2],[23.084,-104.1],[23.106,-104.8],[23.128,-115.4],[23.149,-120.3],[23.171,-113.9],[23.193,-111.8],[23.215,-111.8],[23.236,-104.1],[23.258,-104.1],[23.280,-113.9],[23.302,-104.8],[23.323,-104.1],[23.345,-123.8],[23.367,-129.1],[23.389,-117.5],[23.410,-113.9],[23.432,-106.9],[23.454,-111.1],[23.475,-111.1],[23.497,-113.9],[23.519,-124.5],[23.541,-129.1],[23.562,-121.0],[23.584,-115.4],[23.606,-121.7],[23.628,-118.2],[23.649,-120.3],[23.671,-116.1],[23.693,-121.0],[23.715,-117.5],[23.736,-129.1],[23.758,-117.5],[23.780,-110.1],[23.802,-111.1],[23.823,-113.2],[23.845,-109.7],[23.867,-108.3],[23.889,-105.5],[23.910,-101.6],[23.932,-109.7],[23.954,-116.8],[23.975,-117.5],[23.997,-117.1]
];

// twin axis: dBVrms mapped onto the Doppler (Hz) scale: -80 dB <-> 0 Hz, 0 dB <-> 1.5 Hz
const dbToHz = db => (db + 80) * 3 / 160;
const hzToDb = hz => hz * 160 / 3 - 80;
const fs = 18.06;
const titleFs = 21.67;

const chart = Plot.plot({
  width: 1900, height: 1000,
  marginLeft: 237.5, marginRight: 190, marginTop: 120, marginBottom: 110,
  style: {fontFamily: "'DejaVu Sans', sans-serif", fontSize: fs + "px", background: "white", color: "black", overflow: "visible"},
  x: {domain: [0, 24]},
  y: {domain: [-1.5, 1.5]},
  marks: [
    Plot.ruleY([0], {stroke: "#808080", strokeWidth: 1.1}),
    Plot.line(dopplerHz, {x: d => d[0], y: d => d[1], stroke: "black", strokeWidth: 2.1}),
    Plot.line(signalDb, {x: d => d[0], y: d => dbToHz(d[1]), stroke: "red", strokeWidth: 2.1}),
    Plot.frame({stroke: "black", strokeWidth: 1.1}),
    Plot.axisX({ticks: hourTicks, tickSize: 5, tickPadding: 3, label: null, tickFormat: d => String(d), fontSize: fs}),
    Plot.axisY({anchor: "left", ticks: dopplerTicks, tickSize: 5, tickPadding: 5, label: null, tickFormat: d3.format(".1f"), fontSize: fs}),
    Plot.axisY({anchor: "right", ticks: dbTicks.map(dbToHz), tickSize: 5, tickPadding: 5, label: null,
      tickFormat: h => d3.format("d")(Math.round(hzToDb(h))), fill: "red", stroke: "black", fontSize: fs}),
    Plot.text([titleLines.join("\n")], {text: d => d, frameAnchor: "top", textAnchor: "middle", lineAnchor: "bottom", dy: -8, fontSize: titleFs, lineHeight: 1.06}),
    Plot.text([xLabel], {text: d => d, frameAnchor: "bottom", textAnchor: "middle", lineAnchor: "middle", dy: 41, fontSize: fs}),
    Plot.text([yLabelLeft], {text: d => d, frameAnchor: "left", textAnchor: "middle", lineAnchor: "middle", rotate: -90, dx: -71, fontSize: fs}),
    Plot.text([yLabelRight], {text: d => d, frameAnchor: "right", textAnchor: "middle", lineAnchor: "middle", rotate: -90, dx: 72, fill: "red", fontSize: fs})
  ]
});
document.getElementById("chart").appendChild(chart);
</script>
</body></html>
